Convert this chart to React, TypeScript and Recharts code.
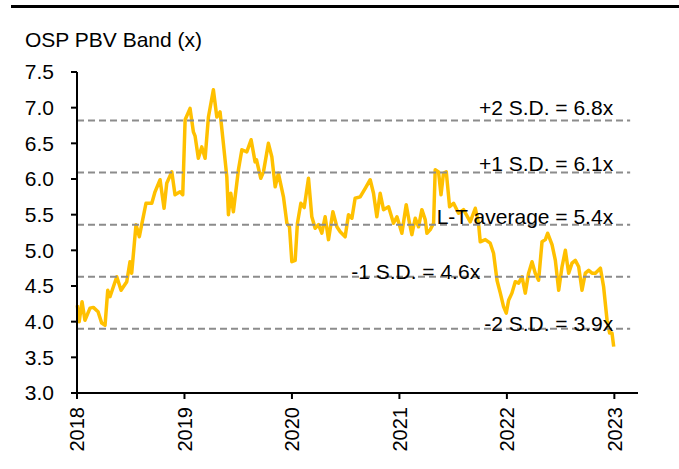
import React from "react";
import { LineChart, Line, XAxis, YAxis, ReferenceLine } from "recharts";

// decimal year of each observation
const dates = [
  2018.003, 2018.02, 2018.047, 2018.074, 2018.121, 2018.152, 2018.196, 2018.23, 2018.261, 2018.286,
  2018.307, 2018.37, 2018.41, 2018.463, 2018.493, 2018.509, 2018.549, 2018.58, 2018.602, 2018.642,
  2018.696, 2018.726, 2018.773, 2018.81, 2018.835, 2018.882, 2018.912, 2018.959, 2018.984,
  2019.006, 2019.052, 2019.083, 2019.099, 2019.129, 2019.161, 2019.192, 2019.223, 2019.269, 2019.301,
  2019.331, 2019.362, 2019.394, 2019.409, 2019.431, 2019.455, 2019.502, 2019.534, 2019.58, 2019.62,
  2019.657, 2019.67, 2019.71, 2019.735, 2019.781, 2019.813, 2019.844, 2019.874, 2019.921, 2019.953,
  2019.977, 2019.999,
  2020.03, 2020.051, 2020.083, 2020.114, 2020.154, 2020.185, 2020.216, 2020.247,
  2020.278, 2020.309, 2020.34, 2020.381, 2020.418, 2020.449, 2020.495, 2020.526, 2020.558, 2020.588,
  2020.635, 2020.682, 2020.728, 2020.759, 2020.79, 2020.821, 2020.852, 2020.899, 2020.945, 2020.977,
  2021.023, 2021.063, 2021.094, 2021.116, 2021.147, 2021.178, 2021.209, 2021.24, 2021.256, 2021.287,
  2021.318, 2021.333, 2021.364, 2021.387, 2021.41, 2021.436, 2021.467, 2021.504, 2021.55, 2021.597,
  2021.659, 2021.706, 2021.736, 2021.752, 2021.799, 2021.845, 2021.876, 2021.908, 2021.939, 2021.969,
  2021.994,
  2022.016, 2022.047, 2022.078, 2022.109, 2022.141, 2022.171, 2022.202, 2022.234, 2022.264,
  2022.295, 2022.327, 2022.358, 2022.379, 2022.42, 2022.451, 2022.482, 2022.513, 2022.544, 2022.575,
  2022.606, 2022.637, 2022.668, 2022.699, 2022.73, 2022.761, 2022.792, 2022.823, 2022.87, 2022.9,
  2022.932, 2022.956, 2022.978, 2022.994,
];

const pbv = [
  4.23, 4.0, 4.28, 4.02, 4.19, 4.2, 4.14, 3.98, 3.95, 4.44,
  4.35, 4.63, 4.44, 4.56, 4.84, 4.68, 5.36, 5.19, 5.36, 5.66,
  5.66, 5.82, 5.99, 5.59, 5.94, 6.1, 5.78, 5.82, 5.78,
  6.83, 6.99, 6.66, 6.6, 6.29, 6.45, 6.29, 6.87, 7.25, 6.87,
  6.94, 6.5, 6.03, 5.5, 5.8, 5.54, 6.13, 6.41, 6.38, 6.55,
  6.24, 6.27, 6.01, 6.1, 6.5, 6.31, 5.89, 6.08, 5.75, 5.38,
  5.33, 4.84,
  4.86, 5.38, 5.66, 5.6, 6.01, 5.47, 5.31, 5.36,
  5.24, 5.47, 5.15, 5.54, 5.33, 5.26, 5.19, 5.5, 5.45, 5.73,
  5.75, 5.87, 5.99, 5.8, 5.47, 5.8, 5.57, 5.61, 5.38, 5.47,
  5.24, 5.64, 5.38, 5.22, 5.45, 5.33, 5.57, 5.43, 5.24, 5.29,
  5.38, 6.13, 6.1, 5.78, 6.08, 6.1, 5.61, 5.66, 5.52, 5.57,
  5.4, 5.59, 5.38, 5.12, 5.15, 5.1, 4.96, 4.58, 4.4, 4.21,
  4.12,
  4.3, 4.4, 4.56, 4.54, 4.63, 4.4, 4.68, 4.84, 4.68,
  4.58, 5.12, 5.15, 5.24, 5.08, 4.86, 4.44, 4.77, 5.0, 4.68,
  4.82, 4.86, 4.77, 4.44, 4.68, 4.72, 4.68, 4.68, 4.75, 4.49,
  4.02, 3.84, 3.84, 3.65,
];

const years = [2018, 2019, 2020, 2021, 2022, 2023];
const yTicks = [3, 3.5, 4, 4.5, 5, 5.5, 6, 6.5, 7, 7.5];

const bandValues = [6.82, 6.09, 5.36, 4.63, 3.9];
const bandLabels = [
  "+2 S.D. = 6.8x",
  "+1 S.D. = 6.1x",
  "L-T average = 5.4x",
  "-1 S.D. = 4.6x",
  "-2 S.D. = 3.9x",
];

// label placement (px): distance of text end from the line end, baseline shift
const labelInset = [17, 17, 17, 150, 17];
const labelShift = [-6, -1.5, -1, 2.7, 2.4];

const FONT = '"Liberation Sans", Arial, Helvetica, sans-serif';
const data = dates.map((t, i) => ({ t, pbv: pbv[i] }));

const YearTick = (props: any) => {
  const { x, y, payload } = props;
  return (
    <text
      x={x}
      y={y}
      dy="0.36em"
      transform={`rotate(-90 ${x} ${y})`}
      textAnchor="end"
      fontSize={20}
      fontFamily={FONT}
      fill="#000"
    >
      {payload.value}
    </text>
  );
};

const bandLabel = (i: number) => (props: any) => {
  const vb = props.viewBox;
  return (
    <text
      x={vb.x + vb.width - labelInset[i]}
      y={vb.y + labelShift[i]}
      textAnchor="end"
      fontSize={21}
      fontFamily={FONT}
      fill="#000"
    >
      {bandLabels[i]}
    </text>
  );
};

export default function App() {
  return (
    <div style={{ position: "absolute", left: 0, top: 0, width: 679, height: 469, background: "#fff", fontFamily: FONT }}>
      <div style={{ position: "absolute", left: 11, top: 5, width: 668, height: 3, background: "#000" }} />
      <div style={{ position: "absolute", left: 25, top: 29, fontSize: 21, lineHeight: "21px", color: "#000" }}>
        OSP PBV Band (x)
      </div>
      <LineChart width={679} height={469} data={data} margin={{ top: 72, right: 41, bottom: 0, left: 0 }}>
        <XAxis
          dataKey="t"
          type="number"
          domain={[2018, 2023.22]}
          ticks={years}
          height={76}
          axisLine={{ stroke: "#000", strokeWidth: 2 }}
          tickLine={{ stroke: "#000", strokeWidth: 2 }}
          tickSize={6}
          tickMargin={8}
          tick={<YearTick />}
          interval={0}
        />
        <YAxis
          type="number"
          domain={[3, 7.5]}
          ticks={yTicks}
          width={77}
          axisLine={{ stroke: "#000", strokeWidth: 2 }}
          tickLine={{ stroke: "#000", strokeWidth: 2 }}
          tickSize={6}
          tickMargin={17}
          tickFormatter={(v: number) => v.toFixed(1)}
          tick={{ fill: "#000", fontSize: 21, fontFamily: FONT }}
          interval={0}
        />
        <Line
          type="linear"
          dataKey="pbv"
          stroke="#FFC000"
          strokeWidth={3.5}
          dot={false}
          strokeLinejoin="round"
          isAnimationActive={false}
        />
        {bandValues.map((v, i) => (
          <ReferenceLine
            key={bandLabels[i]}
            segment={[{ x: 2018, y: v }, { x: 2023.147, y: v }]}
            stroke="#8c8c8c"
            strokeWidth={2}
            strokeDasharray="7 4"
            label={bandLabel(i)}
          />
        ))}
      </LineChart>
    </div>
  );
}
